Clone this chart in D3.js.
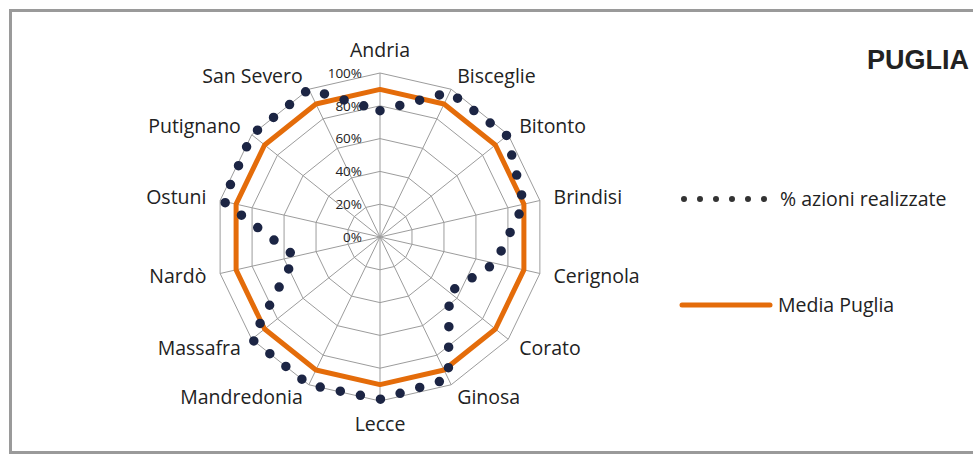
<!DOCTYPE html>
<html>
<head>
<meta charset="utf-8">
<script src="https://d3js.org/d3.v7.min.js"></script>
<style>
  body { margin: 0; background: #fff; }
  text { font-family: "Open Sans", "Noto Sans", sans-serif; fill: #222; }
</style>
</head>
<body>
<div id="chart"></div>
<script>
// data
var comuni = ["Andria", "Bisceglie", "Bitonto", "Brindisi", "Cerignola", "Corato", "Ginosa",
              "Lecce", "Mandredonia", "Massafra", "Nardò", "Ostuni", "Putignano", "San Severo"];
var azioni = [0.77, 0.98, 0.99, 0.90, 0.72, 0.54, 0.96, 0.99, 1.00, 1.00, 0.53, 0.98, 1.00, 1.00];
var mediaPuglia = 0.90;
var ticks = [0, 0.2, 0.4, 0.6, 0.8, 1.0];
var nomeAzioni = "% azioni realizzate";
var nomeMedia = "Media Puglia";
var titolo = "PUGLIA";

var width = 973, height = 457;
var cx = 380, cy = 237;
var orange = "#E46C0A", navy = "#1C2544";

var svg = d3.select("#chart").append("svg")
    .attr("width", width)
    .attr("height", height);

// frame
svg.append("rect").attr("x", 10.5).attr("y", 10.5)
    .attr("width", width + 20).attr("height", 442)
    .attr("fill", "#fff").attr("stroke", "#9a9a9a").attr("stroke-width", 3);

var r = d3.scaleLinear().domain([0, 1]).range([0, 164]);
var angle = d3.scalePoint().domain(comuni).range([0, 2 * Math.PI * (comuni.length - 1) / comuni.length]);

var g = svg.append("g").attr("transform", "translate(" + cx + "," + cy + ")");

// grid rings
var ring = d3.lineRadial()
    .angle(function(d) { return angle(d.c); })
    .radius(function(d) { return r(d.v); })
    .curve(d3.curveLinearClosed);

g.selectAll(".ring")
    .data(ticks.filter(function(t) { return t > 0; }))
    .enter().append("path")
    .attr("class", "ring")
    .attr("d", function(t) { return ring(comuni.map(function(c) { return {c: c, v: t}; })); })
    .attr("fill", "none")
    .attr("stroke", "#9c9c9c")
    .attr("stroke-width", 1);

// spokes
g.selectAll(".spoke")
    .data(comuni)
    .enter().append("line")
    .attr("x1", 0).attr("y1", 0)
    .attr("x2", function(c) { return r(1) * Math.sin(angle(c)); })
    .attr("y2", function(c) { return -r(1) * Math.cos(angle(c)); })
    .attr("stroke", "#9c9c9c")
    .attr("stroke-width", 1);

// tick labels
g.selectAll(".tick")
    .data(ticks)
    .enter().append("text")
    .attr("x", -18)
    .attr("y", function(t) { return -r(t); })
    .attr("dy", "0.35em")
    .attr("text-anchor", "end")
    .style("font-size", "13.5px")
    .text(function(t) { return d3.format(".0%")(t); });

// category labels
g.selectAll(".lab")
    .data(comuni)
    .enter().append("text")
    .attr("x", function(c) { return 178 * Math.sin(angle(c)); })
    .attr("y", function(c) {
        var co = Math.cos(angle(c));
        return -178 * co - (Math.abs(co) > 0.99 ? co * 9 : 0);
    })
    .attr("dy", "0.35em")
    .attr("text-anchor", function(c) {
        var s = Math.sin(angle(c));
        return Math.abs(s) < 0.1 ? "middle" : (s > 0 ? "start" : "end");
    })
    .style("font-size", "19.5px")
    .text(function(c) { return c; });

// Media Puglia
g.append("path")
    .attr("d", ring(comuni.map(function(c) { return {c: c, v: mediaPuglia}; })))
    .attr("fill", "none")
    .attr("stroke", orange)
    .attr("stroke-width", 5)
    .attr("stroke-linejoin", "round");

// % azioni realizzate
g.append("path")
    .attr("d", ring(comuni.map(function(c, i) { return {c: c, v: azioni[i]}; })))
    .attr("fill", "none")
    .attr("stroke", navy)
    .attr("stroke-width", 9.5)
    .attr("stroke-linecap", "round")
    .attr("stroke-dasharray", "0 20.5");

// legend
var leg = svg.append("g");
leg.append("line")
    .attr("x1", 684).attr("x2", 768).attr("y1", 199).attr("y2", 199)
    .attr("stroke", "#333").attr("stroke-width", 6)
    .attr("stroke-linecap", "round").attr("stroke-dasharray", "0 16");
leg.append("text").attr("x", 780).attr("y", 199).attr("dy", "0.35em")
    .style("font-size", "19.5px").text(nomeAzioni);
leg.append("line")
    .attr("x1", 682).attr("x2", 770).attr("y1", 305).attr("y2", 305)
    .attr("stroke", orange).attr("stroke-width", 5)
    .attr("stroke-linecap", "round");
leg.append("text").attr("x", 778).attr("y", 305).attr("dy", "0.35em")
    .style("font-size", "19.5px").text(nomeMedia);

// title
svg.append("text")
    .attr("x", 867).attr("y", 60).attr("dy", "0.35em")
    .style("font-size", "27px").style("font-weight", "bold")
    .style("font-family", "'Liberation Sans', Arial, sans-serif")
    .text(titolo);
</script>
</body>
</html>
